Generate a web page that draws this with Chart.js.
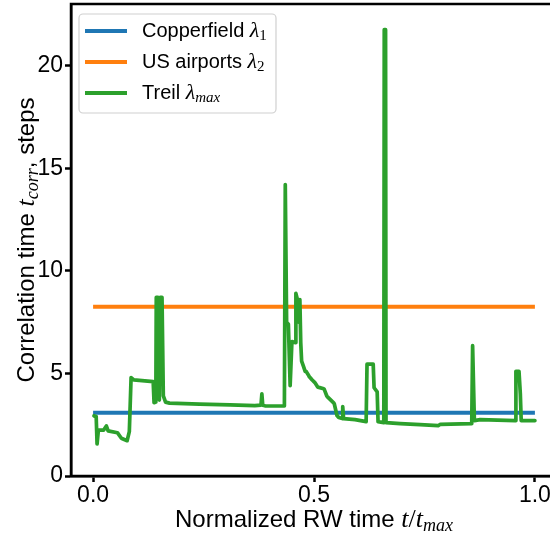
<!DOCTYPE html>
<html>
<head>
<meta charset="utf-8">
<script src="https://cdn.jsdelivr.net/npm/chart.js@4.4.1/dist/chart.umd.min.js"></script>
<style>
  body { margin: 0; background: #fff; overflow: hidden; }
  #wrap { width: 550px; height: 537px; overflow: hidden; }
</style>
</head>
<body>
<div id="wrap"><canvas id="corrChart" width="562" height="537"></canvas></div>
<script>
// series data
const lineX = [0, 1];
const copperfield = [3.08, 3.08];
const usAirports = [8.25, 8.25];

const treilX = [0.002, 0.007, 0.009, 0.012, 0.024, 0.030, 0.034, 0.055, 0.064, 0.077,
  0.082, 0.086, 0.092, 0.136, 0.138, 0.142, 0.143,
  0.147, 0.150, 0.152, 0.156, 0.159, 0.164, 0.173, 0.241, 0.310, 0.366,
  0.380, 0.382, 0.384, 0.389, 0.433, 0.435, 0.438, 0.442, 0.446, 0.450,
  0.457, 0.459, 0.463, 0.465, 0.468, 0.470, 0.472, 0.476, 0.480, 0.482,
  0.488, 0.489, 0.495, 0.496, 0.502, 0.503, 0.508, 0.509, 0.522, 0.523,
  0.529, 0.530, 0.545, 0.546, 0.552, 0.556, 0.564, 0.565, 0.567, 0.593,
  0.618, 0.620, 0.634, 0.636, 0.643, 0.645, 0.658, 0.659, 0.662, 0.663,
  0.695, 0.740, 0.781, 0.786, 0.857, 0.859, 0.863, 0.876, 0.955, 0.957,
  0.964, 0.967, 0.969, 1.0];
const treilY = [2.93, 2.9, 1.56, 2.24, 2.24, 2.44, 2.2, 2.11, 1.84, 1.72,
  2.16, 4.8, 4.68, 4.6, 3.57, 3.6, 8.7,
  8.7, 3.7, 8.7, 8.7, 3.9, 3.6, 3.55, 3.5, 3.47, 3.43,
  3.45, 4.0, 3.45, 3.42, 3.41, 14.2, 7.5, 7.4, 4.4, 6.55,
  6.5, 8.9, 8.55, 7.5, 8.6, 6.5, 5.6, 5.35, 5.1, 5.1,
  4.9, 4.85, 4.7, 4.68, 4.55, 4.52, 4.35, 4.33, 4.25, 4.23,
  3.9, 3.87, 3.55, 3.51, 2.95, 2.85, 2.8, 3.38, 2.8, 2.75,
  2.65, 5.45, 5.45, 4.3, 4.1, 2.65, 2.6, 21.75, 21.75, 2.6,
  2.55, 2.5, 2.45, 2.52, 2.55, 6.35, 2.7, 2.75, 2.7, 5.1,
  5.1, 4.0, 2.7, 2.7];

const seriesNames = ["Copperfield", "US airports", "Treil"];
const seriesSubs = ["1", "2", "max"];
const seriesColors = ["#1f77b4", "#ff7f0e", "#2ca02c"];

const xTicks = [0, 0.5, 1];
const yTicks = [0, 5, 10, 15, 20];

const SANS = '"Liberation Sans", Arial, sans-serif';
const SERIF = '"Liberation Serif", serif';

function toPoints(xs, ys) {
  return xs.map((x, i) => ({ x: x, y: ys[i] }));
}

// draws a run of text pieces with different fonts, centred on cx
function drawRuns(ctx, runs, cx, cy, alignLeft) {
  let total = 0;
  runs.forEach(r => { ctx.font = r.f; total += ctx.measureText(r.t).width; });
  let x = alignLeft ? cx : cx - total / 2;
  runs.forEach(r => {
    ctx.font = r.f;
    ctx.fillText(r.t, x, cy + (r.dy || 0));
    x += ctx.measureText(r.t).width;
  });
}

const framePlugin = {
  id: "frame",
  afterDraw(chart) {
    const ctx = chart.ctx;
    const a = chart.chartArea;
    ctx.save();
    // spines
    ctx.strokeStyle = "#000";
    ctx.lineWidth = 2.5;
    ctx.strokeRect(a.left, a.top, a.right - a.left, a.bottom - a.top);

    // axis titles
    ctx.fillStyle = "#000";
    ctx.textBaseline = "alphabetic";
    drawRuns(ctx, [
      { t: "Normalized RW time ", f: "24px " + SANS },
      { t: "t", f: "italic 26px " + SERIF },
      { t: "/", f: "26px " + SERIF },
      { t: "t", f: "italic 26px " + SERIF },
      { t: "max", f: "italic 18px " + SERIF, dy: 4 }
    ], (a.left + a.right) / 2, 527);

    ctx.save();
    ctx.translate(34, (a.top + a.bottom) / 2);
    ctx.rotate(-Math.PI / 2);
    drawRuns(ctx, [
      { t: "Correlation time ", f: "24px " + SANS },
      { t: "t", f: "italic 26px " + SERIF },
      { t: "corr", f: "italic 18px " + SERIF, dy: 4 },
      { t: ", steps", f: "24px " + SANS }
    ], 0, 0);
    ctx.restore();

    // legend box
    const bx = 79, by = 14, bw = 197, bh = 99;
    ctx.beginPath();
    ctx.roundRect(bx, by, bw, bh, 4);
    ctx.fillStyle = "rgba(255,255,255,0.8)";
    ctx.fill();
    ctx.strokeStyle = "#d0d0d0";
    ctx.lineWidth = 1.2;
    ctx.stroke();

    seriesNames.forEach((name, i) => {
      const ry = by + 17 + i * 31;
      ctx.strokeStyle = seriesColors[i];
      ctx.lineWidth = 4;
      ctx.beginPath();
      ctx.moveTo(85, ry);
      ctx.lineTo(127, ry);
      ctx.stroke();
      ctx.fillStyle = "#000";
      ctx.textBaseline = "middle";
      drawRuns(ctx, [
        { t: name + " ", f: "20px " + SANS },
        { t: "\u03bb", f: "italic 22px " + SERIF },
        { t: seriesSubs[i], f: (seriesSubs[i].length > 1 ? "italic " : "") + "15px " + SERIF, dy: 5 }
      ], 142, ry, true);
    });
    ctx.restore();
  }
};

const ctx = document.getElementById("corrChart").getContext("2d");
let corrChart = new Chart(ctx, {
  type: "scatter",
  data: {
    datasets: [
      {
        label: seriesNames[0],
        data: toPoints(lineX, copperfield),
        showLine: true,
        borderColor: seriesColors[0],
        borderWidth: 4,
        pointRadius: 0,
        order: 3,
      },
      {
        label: seriesNames[1],
        data: toPoints(lineX, usAirports),
        showLine: true,
        borderColor: seriesColors[1],
        borderWidth: 4,
        pointRadius: 0,
        order: 2,
      },
      {
        label: seriesNames[2],
        data: toPoints(treilX, treilY),
        showLine: true,
        borderColor: seriesColors[2],
        borderWidth: 3.7,
        borderJoinStyle: "round",
        borderCapStyle: "round",
        pointRadius: 0,
        tension: 0,
        order: 1,
      },
    ],
  },
  options: {
    responsive: false,
    animation: false,
    events: [],
    layout: { padding: { top: 4, right: 5, left: 0, bottom: 0 } },
    scales: {
      x: {
        type: "linear",
        min: -0.05,
        max: 1.05,
        afterBuildTicks: (scale) => { scale.ticks = xTicks.map(v => ({ value: v })); },
        afterFit: (scale) => { scale.height = 61; scale.paddingLeft = 0; scale.paddingRight = 0; },
        grid: { drawOnChartArea: false, tickLength: 6, tickWidth: 2.5, tickColor: "#000" },
        border: { color: "#000", width: 2.5 },
        ticks: {
          color: "#000",
          padding: 0,
          font: { family: SANS, size: 23 },
          callback: (v) => v.toFixed(1),
        },
      },
      y: {
        min: 0,
        max: 23,
        afterBuildTicks: (scale) => { scale.ticks = yTicks.map(v => ({ value: v })); },
        afterFit: (scale) => { scale.width = 71; scale.paddingTop = 0; scale.paddingBottom = 0; },
        grid: { drawOnChartArea: false, tickLength: 6, tickWidth: 2.5, tickColor: "#000" },
        border: { color: "#000", width: 2.5 },
        ticks: {
          color: "#000",
          padding: 2,
          font: { family: SANS, size: 23 },
        },
      },
    },
    plugins: {
      legend: { display: false },
      tooltip: { enabled: false },
    },
  },
  plugins: [framePlugin],
});
</script>
</body>
</html>
